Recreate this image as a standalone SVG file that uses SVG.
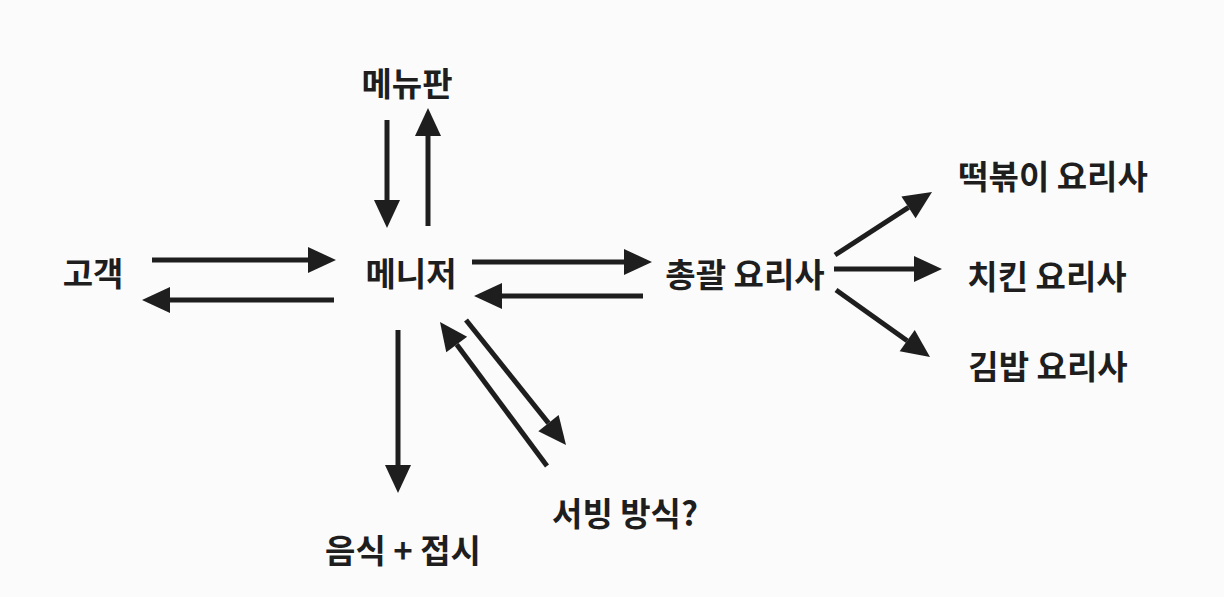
<svg xmlns="http://www.w3.org/2000/svg" width="1224" height="597" viewBox="0 0 1224 597">
<defs>
<style>
.lbl{font-family:"Noto Sans CJK KR","Noto Sans",sans-serif;font-weight:700;font-size:33px;fill:#1e1e1e;text-anchor:middle}
.ln{stroke:#1e1e1e;stroke-width:5;fill:none;marker-end:url(#ah)}
</style>
<marker id="ah" markerUnits="userSpaceOnUse" markerWidth="30" markerHeight="28" refX="0" refY="13" orient="auto" viewBox="0 0 30 28" overflow="visible">
<path d="M0,0 L28,13 L0,26 Z" fill="#1e1e1e"/>
</marker>
</defs>
<rect width="1224" height="597" fill="#fbfbfb"/>
<g id="connectors">
<line class="ln" x1="152" y1="260" x2="308" y2="260"/>
<line class="ln" x1="334" y1="300" x2="170" y2="300"/>
<line class="ln" x1="472" y1="262" x2="624" y2="262"/>
<line class="ln" x1="643" y1="296" x2="502" y2="296"/>
<line class="ln" x1="387" y1="120" x2="387" y2="200"/>
<line class="ln" x1="428" y1="226" x2="428" y2="136"/>
<line class="ln" x1="398" y1="330" x2="398" y2="465"/>
<line class="ln" x1="835" y1="255" x2="908.5" y2="207.3"/>
<line class="ln" x1="834" y1="269" x2="914" y2="269"/>
<line class="ln" x1="836" y1="290" x2="907.2" y2="340.7"/>
<line class="ln" x1="466" y1="320" x2="548.5" y2="423.1"/>
<line class="ln" x1="547" y1="466" x2="456.7" y2="344.5"/>
</g>
<g id="menu"><text class="lbl" x="407" y="96">메뉴판</text></g>
<g id="customer"><text class="lbl" x="93" y="286">고객</text></g>
<g id="manager"><text class="lbl" x="411" y="286">메니저</text></g>
<g id="headchef"><text class="lbl" x="745" y="287">총괄 요리사</text></g>
<g id="tteok"><text class="lbl" x="1053" y="189">떡볶이 요리사</text></g>
<g id="chicken"><text class="lbl" x="1047" y="289">치킨 요리사</text></g>
<g id="gimbap"><text class="lbl" x="1048" y="379">김밥 요리사</text></g>
<g id="food"><text class="lbl" x="403" y="563">음식 + 접시</text></g>
<g id="serving"><text class="lbl" x="625" y="526">서빙 방식?</text></g>
</svg>
